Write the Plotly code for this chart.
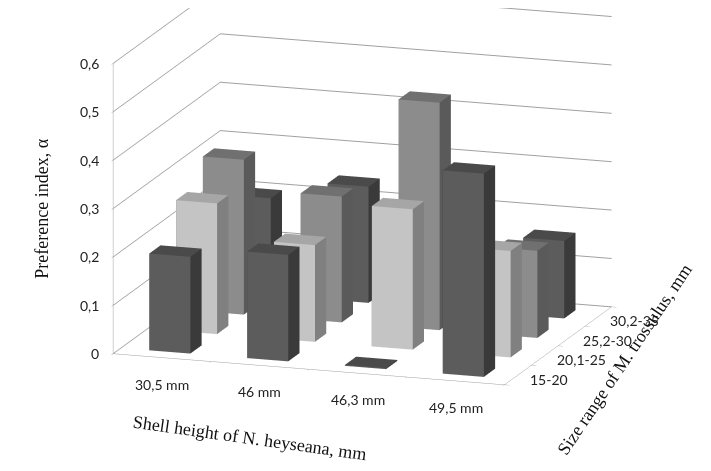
import plotly.graph_objects as go

# categories
shell_height = ['30,5 mm', '46 mm', '46,3 mm', '49,5 mm']
size_range = ['15-20', '20,1-25', '25,2-30', '30,2-35']

# preference index per size range (one list per row, same order as shell_height)
pref_15_20 = [0.20, 0.22, 0.00, 0.42]
pref_20_25 = [0.27, 0.20, 0.29, 0.22]
pref_25_30 = [0.32, 0.26, 0.47, 0.18]
pref_30_35 = [0.20, 0.24, 0.25, 0.16]

z_ticks = [0, 0.1, 0.2, 0.3, 0.4, 0.5, 0.6]
z_ticktext = ['0', '0,1', '0,2', '0,3', '0,4', '0,5', '0,6']

series = [pref_15_20, pref_20_25, pref_25_30, pref_30_35]
# colours: front face, top face, right side
shades = [
    ('#5c5c5c', '#4a4a4a', '#3a3a3a'),
    ('#c4c4c4', '#a6a6a6', '#808080'),
    ('#8c8c8c', '#707070', '#5a5a5a'),
    ('#5c5c5c', '#4a4a4a', '#3a3a3a'),
]

w = 0.21  # half width of a bar

fig = go.Figure()

for j, vals in enumerate(series):
    front, top, side = shades[j]
    X, Y, Z, I, J, K, C = [], [], [], [], [], [], []
    for i, v in enumerate(vals):
        n = len(X)
        x0, x1 = i - w, i + w
        y0, y1 = j - w, j + w
        h = max(v, 0.002)
        pts = [(x0, y0, 0), (x1, y0, 0), (x1, y1, 0), (x0, y1, 0),
               (x0, y0, h), (x1, y0, h), (x1, y1, h), (x0, y1, h)]
        for p in pts:
            X.append(p[0]); Y.append(p[1]); Z.append(p[2])
        faces = [
            ((0, 1, 5), front), ((0, 5, 4), front),   # front (-y)
            ((1, 2, 6), side), ((1, 6, 5), side),     # right (+x)
            ((4, 5, 6), top), ((4, 6, 7), top),       # top
            ((3, 2, 6), side), ((3, 6, 7), side),     # back
            ((0, 3, 7), side), ((0, 7, 4), side),     # left
            ((0, 1, 2), top), ((0, 2, 3), top),       # bottom
        ]
        for (a, b, c), col in faces:
            I.append(n + a); J.append(n + b); K.append(n + c); C.append(col)
    fig.add_trace(go.Mesh3d(
        x=X, y=Y, z=Z, i=I, j=J, k=K, facecolor=C,
        flatshading=True,
        lighting=dict(ambient=1, diffuse=0, specular=0, roughness=1, fresnel=0),
        hoverinfo='skip', showscale=False, name=size_range[j]
    ))

tickfont = dict(family='Lato', size=14, color='#222222')
titlefont = dict(family='Liberation Serif', size=18, color='#111111')

ann = []
for i, t in enumerate(shell_height):
    ann.append(dict(x=i, y=-0.5, z=0, text=t, showarrow=False, font=tickfont,
                    xanchor='center', yanchor='top', yshift=-16))
for j, t in enumerate(size_range):
    ann.append(dict(x=3.5, y=j, z=0, text=t, showarrow=False, font=tickfont,
                    xanchor='left', yanchor='middle', xshift=10, yshift=-4))
for zv, t in zip(z_ticks, z_ticktext):
    ann.append(dict(x=-0.5, y=-0.5, z=zv, text=t, showarrow=False, font=tickfont,
                    xanchor='right', yanchor='middle', xshift=-12))
ann.append(dict(x=-0.5, y=-0.5, z=0.3, text='Preference index, α', showarrow=False,
                font=titlefont, textangle=-90, xshift=-72))
ann.append(dict(x=1.0, y=-0.5, z=0, text='Shell height of N. heyseana, mm',
                showarrow=False, font=titlefont, textangle=8, yshift=-73, xshift=-10))
ann.append(dict(x=3.5, y=1.5, z=0, text='Size range of M. trossulus, mm',
                showarrow=False, font=titlefont, textangle=-56, xshift=66, yshift=-14))

ax_common = dict(showticklabels=False, showgrid=False, showbackground=False,
                 showline=True, linecolor='#a0a0a0', ticks='outside',
                 tickcolor='#a0a0a0', ticklen=5, zeroline=False, showspikes=False,
                 title=dict(text=''))

fig.update_layout(
    width=711, height=471,
    margin=dict(l=0, r=0, t=0, b=0),
    paper_bgcolor='white',
    showlegend=False,
    scene=dict(
        domain=dict(x=[0, 1], y=[0, 1]),
        xaxis=dict(ax_common, range=[-0.5, 3.5], tickvals=[-0.5, 0.5, 1.5, 2.5, 3.5]),
        yaxis=dict(ax_common, range=[-0.5, 3.5], tickvals=[-0.5, 0.5, 1.5, 2.5, 3.5]),
        zaxis=dict(ax_common, range=[0, 0.6], tickvals=z_ticks, showgrid=True,
                   gridcolor='#a0a0a0'),
        aspectmode='manual',
        aspectratio=dict(x=1.75, y=1.45, z=1.27),
        camera=dict(
            eye=dict(x=0.765, y=-2.3, z=0.345),
            center=dict(x=0.005, y=0, z=-0.255),
            projection=dict(type='orthographic'),
        ),
        annotations=ann,
    ),
)

fig.write_html("out.html")
